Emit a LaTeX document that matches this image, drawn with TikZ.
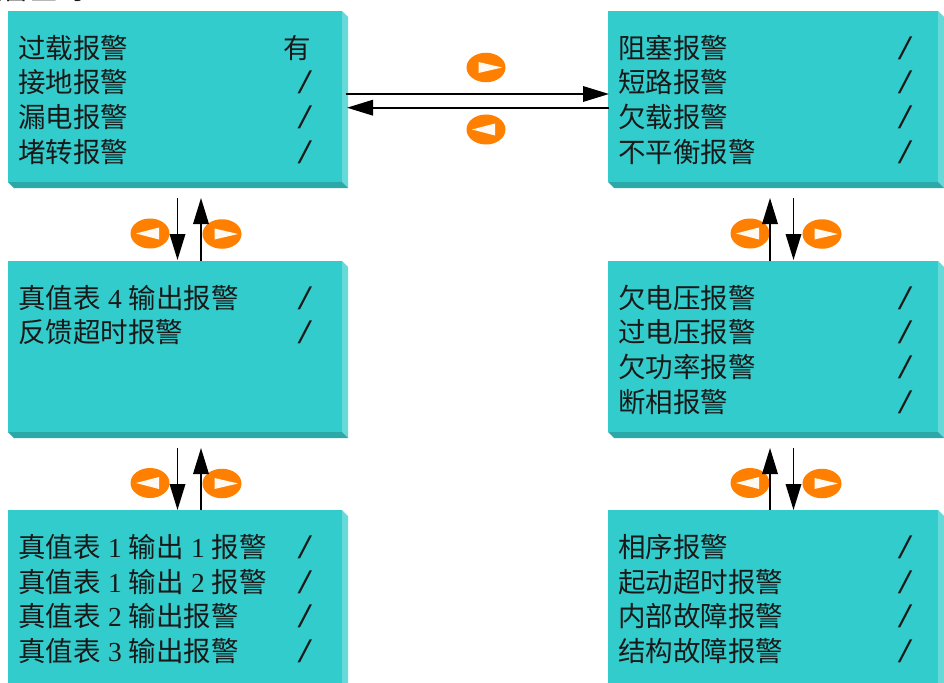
\documentclass[tikz,border=0pt]{standalone}
\usepackage{fontspec}
\usepackage{graphicx}
\setmainfont{Liberation Serif}
\newfontfamily\cjk{Noto Sans CJK SC}[Scale=1.0]
\usetikzlibrary{arrows.meta,shapes.geometric}
\tikzset{
  x=1pt,y=-1pt,
  alarm/.style={anchor=west,inner sep=0pt,xshift=-0.8pt,font=\fontsize{27.5}{27.5}\selectfont\cjk,text=black!90},
  slash/.style={anchor=center,inner sep=0pt,font=\fontsize{27.5}{27.5}\selectfont\cjk,text=black!90},
  lnk/.style={draw=black,line width=1.8pt,-{Triangle[length=26pt,width=15.5pt,sharp]}},
}
\definecolor{tealface}{HTML}{33CCCC}
\definecolor{tealright}{HTML}{66D9D9}
\definecolor{tealbottom}{HTML}{2BA8A8}
\definecolor{orangebtn}{HTML}{FF8000}
\newcommand{\dg}[1]{\makebox[28pt][c]{\fontsize{27.5}{27.5}\selectfont\rmfamily #1}}
\newcommand{\sm}{\scalebox{1.9}[1.25]{\fontsize{27.5}{27.5}\selectfont\rmfamily /}}
\newcommand{\panel}[5]{% name, x0, y0, x1, y1 : face corners
  \fill[tealface] (#2,#3) rectangle (#4,#5);
  \fill[tealright] (#4,#3) -- (#4+6,#3+6) -- (#4+6,#5+6) -- (#4,#5) -- cycle;
  \fill[tealbottom] (#2,#5) -- (#4,#5) -- (#4+6,#5+6) -- (#2+6,#5+6) -- cycle;
  \coordinate (#1) at (#2,#3);
}
\newcommand{\btnright}[3]{% name x y
  \node[ellipse,fill=orangebtn,minimum width=39pt,minimum height=29.5pt,inner sep=0pt] (#1) at (#2,#3) {};
  \fill[white!95!orange] (#2-7.5,#3-5.5) -- (#2+16,#3) -- (#2-7.5,#3+5.5) -- cycle;
}
\newcommand{\btnleft}[3]{% name x y
  \node[ellipse,fill=orangebtn,minimum width=39pt,minimum height=30pt,inner sep=0pt] (#1) at (#2,#3) {};
  \fill[white!95!orange] (#2+9,#3-6) -- (#2-14,#3) -- (#2+9,#3+6) -- cycle;
}
\begin{document}
\begin{tikzpicture}
\useasboundingbox (0,0) rectangle (944,682);
\clip (0,0) rectangle (944,682);
\fill[white] (0,0) rectangle (944,682);

\node[alarm] (head) at (-24,-11) {报警查询};

% panels
\panel{a}{8}{11}{342}{182}
\panel{b}{608}{11}{938}{182}
\panel{c}{8}{261}{342}{432}
\panel{d}{608}{261}{938}{432}
\panel{e}{8}{510}{342}{690}
\panel{f}{608}{510}{938}{690}

% coordinates for links
\coordinate (ab1s) at (346,94); \coordinate (ab1e) at (609,94);
\coordinate (ab2s) at (609,107.7); \coordinate (ab2e) at (347,107.7);
\coordinate (ac1s) at (177.5,198); \coordinate (ac1e) at (177.5,260);
\coordinate (ac2s) at (201,261); \coordinate (ac2e) at (201,198);
\coordinate (ce1s) at (177.5,448); \coordinate (ce1e) at (177.5,510);
\coordinate (ce2s) at (201,510); \coordinate (ce2e) at (201,448);
\coordinate (bd1s) at (770,261); \coordinate (bd1e) at (770,198);
\coordinate (bd2s) at (793.5,198); \coordinate (bd2e) at (793.5,260);
\coordinate (df1s) at (770,510); \coordinate (df1e) at (770,448);
\coordinate (df2s) at (793.5,448); \coordinate (df2e) at (793.5,510);

% buttons
\btnright{br1}{486}{67.5}
\btnleft{bl1}{486}{129.5}
\btnleft{bl2}{150}{233.5}
\btnright{br2}{222}{234}
\btnleft{bl3}{150}{483}
\btnright{br3}{222}{483.5}
\btnleft{bl4}{750}{233.5}
\btnright{br4}{822}{234}
\btnleft{bl5}{750}{483}
\btnright{br5}{822}{483.5}

% links
\draw[lnk] (ab1s) -- (ab1e);
\draw[lnk] (ab2s) -- (ab2e);
\draw[lnk] (ac1s) -- (ac1e);
\draw[lnk] (ac2s) -- (ac2e);
\draw[lnk] (ce1s) -- (ce1e);
\draw[lnk] (ce2s) -- (ce2e);
\draw[lnk] (bd1s) -- (bd1e);
\draw[lnk] (bd2s) -- (bd2e);
\draw[lnk] (df1s) -- (df1e);
\draw[lnk] (df2s) -- (df2e);

% panel a
\node[alarm] (a1) at (19,48) {过载报警};
\node[alarm] (a2) at (19,82) {接地报警};
\node[alarm] (a3) at (19,117) {漏电报警};
\node[alarm] (a4) at (19,152) {堵转报警};
\node[slash] (a1v) at (297,48) {有};
\node[slash] (a2v) at (305,82) {\sm};
\node[slash] (a3v) at (305,117) {\sm};
\node[slash] (a4v) at (305,152) {\sm};
% panel b
\node[alarm] (b1) at (619,48) {阻塞报警};
\node[alarm] (b2) at (619,82) {短路报警};
\node[alarm] (b3) at (619,117) {欠载报警};
\node[alarm] (b4) at (619,152) {不平衡报警};
\node[slash] (b1v) at (905,48) {\sm};
\node[slash] (b2v) at (905,82) {\sm};
\node[slash] (b3v) at (905,117) {\sm};
\node[slash] (b4v) at (905,152) {\sm};
% panel c
\node[alarm] (c1) at (19,298) {真值表\dg{4}输出报警};
\node[alarm] (c2) at (19,332) {反馈超时报警};
\node[slash] (c1v) at (305,298) {\sm};
\node[slash] (c2v) at (305,332) {\sm};
% panel d
\node[alarm] (d1) at (619,298) {欠电压报警};
\node[alarm] (d2) at (619,332) {过电压报警};
\node[alarm] (d3) at (619,367) {欠功率报警};
\node[alarm] (d4) at (619,402) {断相报警};
\node[slash] (d1v) at (905,298) {\sm};
\node[slash] (d2v) at (905,332) {\sm};
\node[slash] (d3v) at (905,367) {\sm};
\node[slash] (d4v) at (905,402) {\sm};
% panel e
\node[alarm] (e1) at (19,547) {真值表\dg{1}输出\dg{1}报警};
\node[alarm] (e2) at (19,582) {真值表\dg{1}输出\dg{2}报警};
\node[alarm] (e3) at (19,616) {真值表\dg{2}输出报警};
\node[alarm] (e4) at (19,651) {真值表\dg{3}输出报警};
\node[slash] (e1v) at (305,547) {\sm};
\node[slash] (e2v) at (305,582) {\sm};
\node[slash] (e3v) at (305,616) {\sm};
\node[slash] (e4v) at (305,651) {\sm};
% panel f
\node[alarm] (f1) at (619,547) {相序报警};
\node[alarm] (f2) at (619,582) {起动超时报警};
\node[alarm] (f3) at (619,616) {内部故障报警};
\node[alarm] (f4) at (619,651) {结构故障报警};
\node[slash] (f1v) at (905,547) {\sm};
\node[slash] (f2v) at (905,582) {\sm};
\node[slash] (f3v) at (905,616) {\sm};
\node[slash] (f4v) at (905,651) {\sm};
\end{tikzpicture}
\end{document}
